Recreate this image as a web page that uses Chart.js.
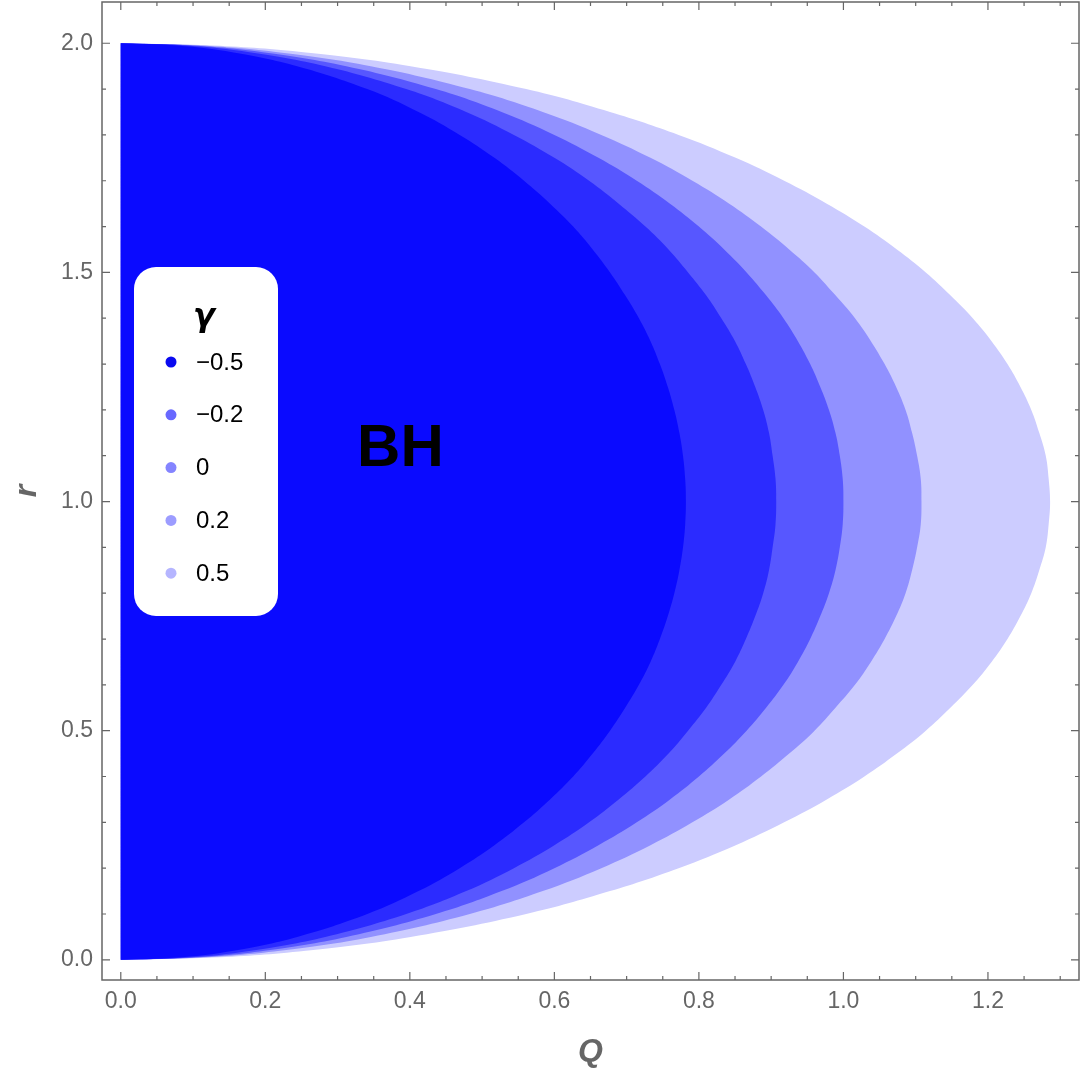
<!DOCTYPE html>
<html>
<head>
<meta charset="utf-8">
<script src="https://cdn.jsdelivr.net/npm/chart.js@4.4.1/dist/chart.umd.min.js"></script>
<style>
  body { margin: 0; background: #fff; }
  #wrap { width: 1080px; height: 1074px; }
</style>
</head>
<body>
<div id="wrap"><canvas id="bhChart"></canvas></div>
<script>
// horizon boundary: r values and Q(r) for each gamma
const rValues = [0, 0.005, 0.02, 0.05, 0.1, 0.15, 0.2, 0.25, 0.3, 0.35, 0.4, 0.45, 0.5, 0.55, 0.6, 0.65, 0.7, 0.75, 0.8, 0.85, 0.9, 0.95,
                 1.0,
                 1.05, 1.1, 1.15, 1.2, 1.25, 1.3, 1.35, 1.4, 1.45, 1.5, 1.55, 1.6, 1.65, 1.7, 1.75, 1.8, 1.85, 1.9, 1.95, 1.98, 1.995, 2.0];
const gammaLabels = ["\u22120.5", "\u22120.2", "0", "0.2", "0.5"];
const qGammaM05 = [0, 0.078, 0.156, 0.244, 0.341, 0.412, 0.469, 0.517, 0.558, 0.594, 0.626, 0.653, 0.677, 0.698, 0.717, 0.733, 0.746, 0.757, 0.766, 0.773, 0.778, 0.781,
                   0.782,
                   0.781, 0.778, 0.773, 0.766, 0.757, 0.746, 0.733, 0.717, 0.698, 0.677, 0.653, 0.626, 0.594, 0.558, 0.517, 0.469, 0.412, 0.341, 0.244, 0.156, 0.078, 0];
const qGammaM02 = [0, 0.091, 0.180, 0.283, 0.395, 0.478, 0.544, 0.600, 0.648, 0.689, 0.726, 0.758, 0.785, 0.810, 0.831, 0.850, 0.865, 0.878, 0.889, 0.897, 0.902, 0.906,
                   0.907,
                   0.906, 0.902, 0.897, 0.889, 0.878, 0.865, 0.850, 0.831, 0.810, 0.785, 0.758, 0.726, 0.689, 0.648, 0.600, 0.544, 0.478, 0.395, 0.283, 0.180, 0.091, 0];
const qGamma0   = [0, 0.100, 0.199, 0.312, 0.436, 0.527, 0.600, 0.661, 0.714, 0.760, 0.800, 0.835, 0.866, 0.893, 0.917, 0.937, 0.954, 0.968, 0.980, 0.989, 0.995, 0.999,
                   1.000,
                   0.999, 0.995, 0.989, 0.980, 0.968, 0.954, 0.937, 0.917, 0.893, 0.866, 0.835, 0.800, 0.760, 0.714, 0.661, 0.600, 0.527, 0.436, 0.312, 0.199, 0.100, 0];
const qGammaP02 = [0, 0.111, 0.220, 0.346, 0.483, 0.584, 0.665, 0.733, 0.791, 0.842, 0.886, 0.925, 0.960, 0.989, 1.016, 1.038, 1.057, 1.073, 1.086, 1.095, 1.102, 1.107,
                   1.108,
                   1.107, 1.102, 1.095, 1.086, 1.073, 1.057, 1.038, 1.016, 0.989, 0.960, 0.925, 0.886, 0.842, 0.791, 0.733, 0.665, 0.584, 0.483, 0.346, 0.220, 0.111, 0];
const qGammaP05 = [0, 0.128, 0.256, 0.401, 0.561, 0.677, 0.772, 0.851, 0.918, 0.977, 1.029, 1.074, 1.114, 1.148, 1.179, 1.205, 1.227, 1.245, 1.260, 1.271, 1.280, 1.284,
                   1.286,
                   1.284, 1.280, 1.271, 1.260, 1.245, 1.227, 1.205, 1.179, 1.148, 1.114, 1.074, 1.029, 0.977, 0.918, 0.851, 0.772, 0.677, 0.561, 0.401, 0.256, 0.128, 0];
const xTicks = [0, 0.2, 0.4, 0.6, 0.8, 1.0, 1.2];
const yTicks = [0, 0.5, 1.0, 1.5, 2.0];

const series = [qGammaM05, qGammaM02, qGamma0, qGammaP02, qGammaP05];
const fillColors = ["rgb(10,10,255)", "rgb(43,43,255)", "rgb(87,87,255)", "rgb(145,145,255)", "rgb(204,204,255)"];
const legendColors = ["rgb(10,10,240)", "rgb(104,104,255)", "rgb(132,132,255)", "rgb(156,156,255)", "rgb(181,181,255)"];
const frameColor = "#666666";
const fontFamily = "'Liberation Sans', Arial, sans-serif";

function toPoints(qs) {
    return qs.map((q, i) => ({ x: q, y: rValues[i] }));
}

// frame with inward ticks on all four sides, plus the BH label
const framePlugin = {
    id: "frame",
    afterDraw(chart) {
        const ctx = chart.ctx;
        const a = chart.chartArea;
        const xs = chart.scales.x, ys = chart.scales.y;
        ctx.save();
        ctx.strokeStyle = frameColor;
        ctx.lineWidth = 1.5;
        ctx.strokeRect(a.left, a.top, a.right - a.left, a.bottom - a.top);
        ctx.lineWidth = 1.2;
        ctx.beginPath();
        for (let k = 0; k <= 26; k++) {
            const px = xs.getPixelForValue(k * 0.05);
            const len = (k % 4 === 0) ? 8 : 4;
            ctx.moveTo(px, a.bottom); ctx.lineTo(px, a.bottom - len);
            ctx.moveTo(px, a.top); ctx.lineTo(px, a.top + len);
        }
        for (let k = 0; k <= 20; k++) {
            const py = ys.getPixelForValue(k * 0.1);
            const len = (k % 5 === 0) ? 8 : 4;
            ctx.moveTo(a.left, py); ctx.lineTo(a.left + len, py);
            ctx.moveTo(a.right, py); ctx.lineTo(a.right - len, py);
        }
        ctx.stroke();

        ctx.fillStyle = "#000";
        ctx.font = "bold 60px " + fontFamily;
        ctx.textAlign = "center";
        ctx.textBaseline = "alphabetic";
        ctx.fillText("BH", xs.getPixelForValue(0.387), ys.getPixelForValue(1.077));
        ctx.restore();
    }
};

// legend box placed inside the plot, like the original
const legendPlugin = {
    id: "insideLegend",
    afterDraw(chart) {
        const ctx = chart.ctx;
        const a = chart.chartArea;
        const bx = a.left + 32, by = a.top + 265, bw = 144, bh = 349;
        ctx.save();
        ctx.fillStyle = "#fff";
        ctx.beginPath();
        ctx.roundRect(bx, by, bw, bh, 22);
        ctx.fill();

        ctx.fillStyle = "#000";
        ctx.font = "italic bold 32px 'DejaVu Sans', sans-serif";
        ctx.textAlign = "center";
        ctx.textBaseline = "alphabetic";
        ctx.fillText("\u03b3", bx + 70, by + 59);

        ctx.font = "24px " + fontFamily;
        ctx.textAlign = "left";
        ctx.textBaseline = "middle";
        gammaLabels.forEach((lab, i) => {
            const y = by + 95 + i * 52.8;
            ctx.fillStyle = legendColors[i];
            ctx.beginPath();
            ctx.arc(bx + 37, y, 5.5, 0, Math.PI * 2);
            ctx.fill();
            ctx.fillStyle = "#000";
            ctx.fillText(lab, bx + 62, y + 1);
        });
        ctx.restore();
    }
};

const ctx = document.getElementById("bhChart").getContext("2d");

new Chart(ctx, {
    type: "line",
    data: {
        datasets: series.map((qs, i) => ({
            label: gammaLabels[i],
            data: toPoints(qs),
            backgroundColor: fillColors[i],
            borderWidth: 0,
            borderColor: "rgba(0,0,0,0)",
            pointRadius: 0,
            tension: 0.4,
            fill: "shape"
        }))
    },
    options: {
        responsive: true,
        maintainAspectRatio: false,
        animation: false,
        layout: { padding: { top: 2, right: 1, left: 0, bottom: 0 } },
        plugins: {
            legend: { display: false },
            tooltip: { enabled: false }
        },
        scales: {
            x: {
                type: "linear",
                min: -0.026,
                max: 1.326,
                grid: { display: false, drawTicks: false },
                border: { display: false },
                afterBuildTicks: (s) => { s.ticks = xTicks.map(v => ({ value: v })); },
                afterFit: (s) => { s.height = 94; s.paddingLeft = 0; s.paddingRight = 0; },
                ticks: {
                    color: frameColor,
                    padding: 8,
                    maxRotation: 0,
                    font: { family: fontFamily, size: 23 },
                    callback: (v) => Number(v).toFixed(1)
                },
                title: {
                    display: true,
                    text: "Q",
                    color: frameColor,
                    padding: { top: 0, bottom: 3 },
                    font: { family: fontFamily, size: 32, weight: "bold", style: "italic" }
                }
            },
            y: {
                type: "linear",
                min: -0.044,
                max: 2.09,
                grid: { display: false, drawTicks: false },
                border: { display: false },
                afterBuildTicks: (s) => { s.ticks = yTicks.map(v => ({ value: v })); },
                afterFit: (s) => { s.width = 102; s.paddingTop = 0; s.paddingBottom = 0; },
                ticks: {
                    color: frameColor,
                    padding: 9,
                    font: { family: fontFamily, size: 23 },
                    callback: (v) => Number(v).toFixed(1)
                },
                title: {
                    display: true,
                    text: "r",
                    color: frameColor,
                    padding: { top: 8, bottom: 0 },
                    font: { family: fontFamily, size: 32, weight: "bold", style: "italic" }
                }
            }
        }
    },
    plugins: [framePlugin, legendPlugin]
});
</script>
</body>
</html>
